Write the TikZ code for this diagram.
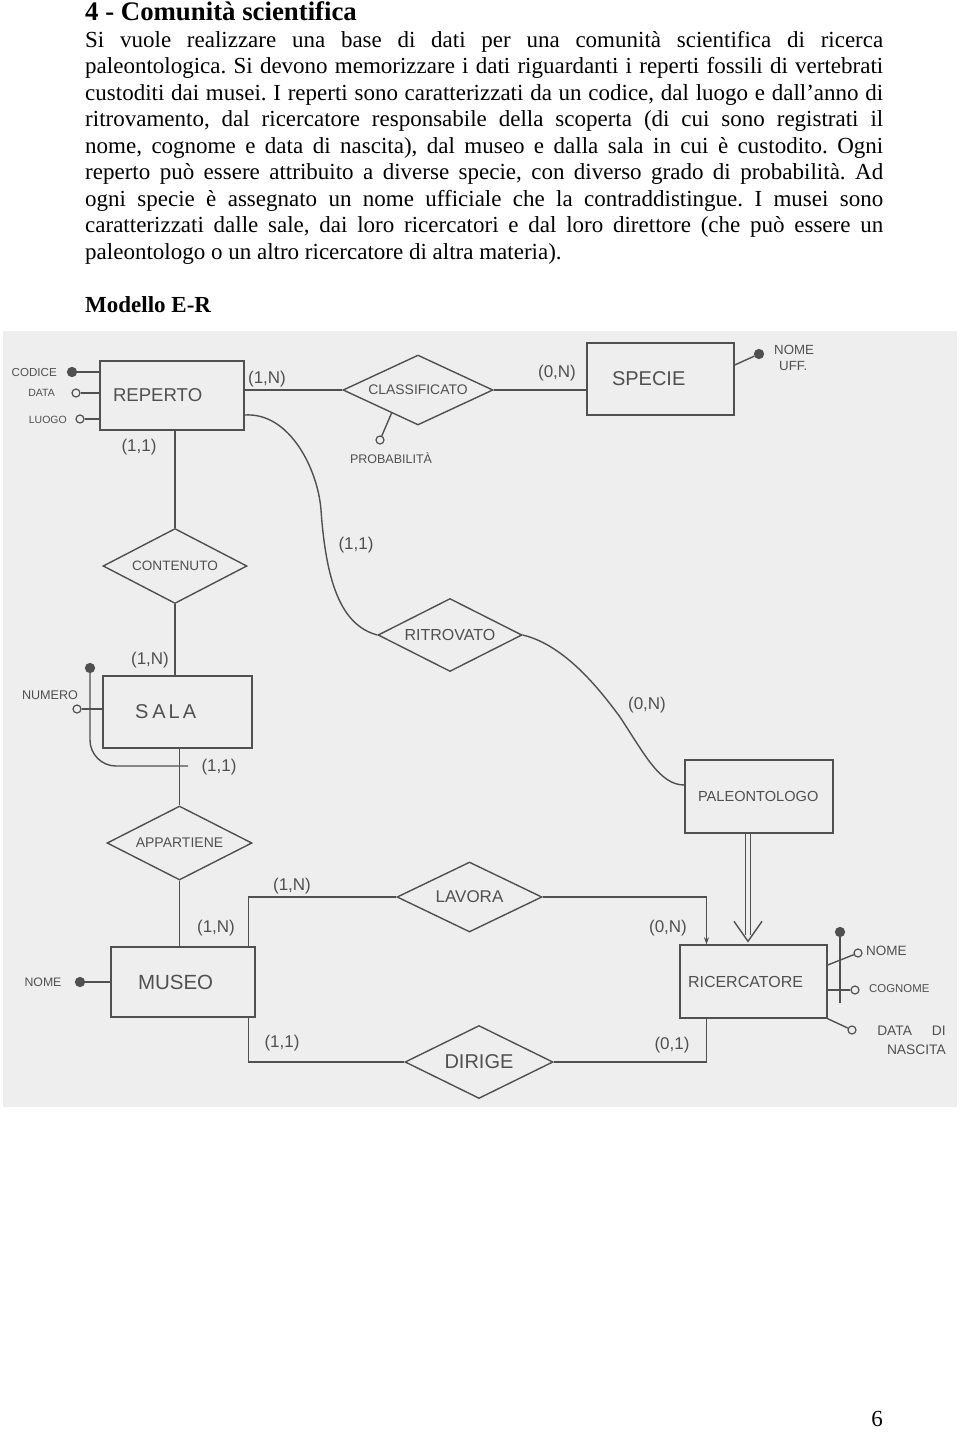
\documentclass[tikz,border=0pt]{standalone}
\usepackage{fontspec}
\setmainfont{Liberation Serif}
\newfontfamily\handfont{Liberation Sans}
\usetikzlibrary{shapes.geometric,arrows.meta,calc}
\definecolor{scan}{RGB}{238,238,238}
\definecolor{pencil}{RGB}{80,80,80}
\newcommand{\hsz}[1]{\fontsize{#1}{#1}\selectfont}
\frenchspacing
\begin{document}
\begin{tikzpicture}[x=1pt,y=-1pt,
  body/.style={inner sep=0pt, anchor=base west, font=\fontsize{23}{26.45}\selectfont},
  ent/.style={draw=pencil, line width=1.4pt, rectangle, inner ysep=0pt, align=left, text=pencil},
  rel/.style={draw=pencil, line width=1.4pt, diamond, aspect=2, inner sep=0pt, text=pencil},
  hand/.style={inner sep=0pt, text=pencil, font=\handfont},
  card/.style={inner sep=0pt, text=pencil, font=\handfont\hsz{17}},
  keyattr/.style={circle, draw=pencil, fill=pencil, line width=1.2pt, minimum size=9pt, inner sep=0pt},
  attr/.style={circle, draw=pencil, fill=scan, line width=1.2pt, minimum size=8pt, inner sep=0pt},
  conn/.style={draw=pencil, line width=1.4pt},
]
\useasboundingbox (0,0) rectangle (960,1433);
\fill[white] (0,0) rectangle (960,1433);

% ---- text ----
\node[inner sep=0pt, anchor=base west, font=\fontsize{26.8}{30}\selectfont\bfseries] (title) at (85,20) {4 - Comunità scientifica};
\node[body] (l1) at (85,47.5) {\makebox[798pt][s]{Si vuole realizzare una base di dati per una comunità scientifica di ricerca}};
\node[body] (l2) at (85,73.95) {\makebox[798pt][s]{paleontologica. Si devono memorizzare i dati riguardanti i reperti fossili di vertebrati}};
\node[body] (l3) at (85,100.4) {\makebox[798pt][s]{custoditi dai musei. I reperti sono caratterizzati da un codice, dal luogo e dall’anno di}};
\node[body] (l4) at (85,126.85) {\makebox[798pt][s]{ritrovamento, dal ricercatore responsabile della scoperta (di cui sono registrati il}};
\node[body] (l5) at (85,153.3) {\makebox[798pt][s]{nome, cognome e data di nascita), dal museo e dalla sala in cui è custodito. Ogni}};
\node[body] (l6) at (85,179.75) {\makebox[798pt][s]{reperto può essere attribuito a diverse specie, con diverso grado di probabilità. Ad}};
\node[body] (l7) at (85,206.2) {\makebox[798pt][s]{ogni specie è assegnato un nome ufficiale che la contraddistingue. I musei sono}};
\node[body] (l8) at (85,232.65) {\makebox[798pt][s]{caratterizzati dalle sale, dai loro ricercatori e dal loro direttore (che può essere un}};
\node[body] (l9) at (85,259.1) {paleontologo o un altro ricercatore di altra materia).};
\node[body, font=\fontsize{23}{26.45}\selectfont\bfseries] (mer) at (85,312) {Modello E-R};
\node[inner sep=0pt, anchor=base east, font=\fontsize{23}{26.45}\selectfont] (page) at (883,1426) {6};

% ---- scanned sheet ----
\fill[scan] (3,331) rectangle (957,1107);

% ---- entities ----
\node[ent, text width=118pt, inner xsep=13pt, minimum height=69pt, font=\handfont\hsz{18.6}] (rep) at (172,395.5) {REPERTO};
\node[ent, text width=97pt, inner xsep=25pt, minimum height=72pt, font=\handfont\hsz{20}] (sp) at (660.5,379) {SPECIE};
\node[ent, text width=85pt, inner xsep=32pt, minimum height=72pt, font=\handfont\hsz{20}] (sala) at (177.5,712) {S\kern4pt A\kern3pt L\kern3pt A};
\node[ent, text width=90pt, inner xsep=27pt, minimum height=70pt, font=\handfont\hsz{20.5}] (mus) at (183,982) {MUSEO};
\node[ent, text width=122pt, inner xsep=13pt, minimum height=73pt, font=\handfont\hsz{14.6}] (pal) at (759,796.5) {PALEONTOLOGO};
\node[ent, text width=131pt, inner xsep=8pt, minimum height=73pt, font=\handfont\hsz{16}] (ric) at (753.5,981.5) {RICERCATORE};

% ---- relationships ----
\node[rel, minimum width=150pt, minimum height=70pt, font=\handfont\hsz{13.9}] (cl) at (418,390) {CLASSIFICATO};
\node[rel, minimum width=144pt, minimum height=73pt, font=\handfont\hsz{16}] (rit) at (450,635) {RITROVATO};
\node[rel, minimum width=144pt, minimum height=75pt, font=\handfont\hsz{13.6}] (con) at (175,566) {CONTENUTO};
\node[rel, minimum width=145pt, minimum height=74pt, font=\handfont\hsz{14}] (app) at (179.5,843) {APPARTIENE};
\node[rel, minimum width=145pt, minimum height=70pt, font=\handfont\hsz{17}] (lav) at (469.5,897) {LAVORA};
\node[rel, minimum width=148pt, minimum height=73pt, font=\handfont\hsz{20}] (dir) at (479,1062) {DIRIGE};

% ---- connectors ----
\draw[conn] (cl.west) -- (cl.west -| rep.east);
\draw[conn] (cl.east) -- (cl.east -| sp.west);
\draw[conn] (con.north) -- (con.north |- rep.south);
\draw[conn] (con.south) -- (con.south |- sala.north);
\draw[conn] (app.north) -- (app.north |- sala.south);
\draw[conn] (app.south) -- (app.south |- mus.north);
\draw[conn] ([xshift=-7pt]mus.north east) |- (lav.west);
\draw[conn] ([xshift=-7pt]mus.south east) |- (dir.west);
\draw[conn, -{Stealth[length=7pt,width=5pt]}] (lav.east) -| ([xshift=-47pt]ric.north);
\draw[conn] (dir.east) -| ([xshift=-47pt]ric.south);
\draw[conn] ([yshift=-19.5pt]rep.east) .. controls (290,412) and (318,470) .. (321,510)
   .. controls (326,580) and (340,625) .. (rit.west);
\draw[conn] (rit.east) .. controls (565,645) and (600,690) .. (620,717)
   .. controls (645,755) and (660,785) .. ([yshift=11.5pt]pal.west);

% ISA
\coordinate (isatip) at ([xshift=-5.5pt,yshift=3pt]ric.north);
\coordinate (isaend) at ([yshift=6pt]isatip);
\draw[draw=pencil, line width=1.2pt, double=scan, double distance=4pt] (isaend |- pal.south) -- (isaend);
\draw[conn] ($(isatip)+(-14,-20)$) -- (isatip) -- ($(isatip)+(14,-20)$);

% ---- attributes ----
\node[keyattr] (acod) at (72,372) {};
\node[attr] (adata) at (76,393) {};
\node[attr] (aluogo) at (80,419) {};
\draw[conn] (acod) -- ([yshift=23.5pt]rep.west);
\draw[conn] (adata) -- ([yshift=2.5pt]rep.west);
\draw[conn] (aluogo) -- ([yshift=-23.5pt]rep.west);
\node[hand, anchor=east, font=\handfont\hsz{11.6}] (tcod) at (57,372) {CODICE};
\node[hand, anchor=east, font=\handfont\hsz{10.5}] (tdata) at (55,393) {DATA};
\node[hand, anchor=east, font=\handfont\hsz{10.5}] (tluogo) at (67,420) {LUOGO};

\node[attr] (aprob) at (380,440) {};
\draw[conn] (aprob) -- ($(cl.west)!0.65!(cl.south)$);
\node[hand, font=\handfont\hsz{12.5}] (tprob) at (391,458) {PROBABILITÀ};

\node[keyattr] (anuff) at (759,354) {};
\draw[conn] (anuff) -- ([yshift=14pt]sp.east);
\node[hand, anchor=west, align=left, font=\handfont\fontsize{13.3}{16}\selectfont] (tnuff) at (774,358) {NOME\\\hspace{5pt}UFF.};

\node[attr] (anum) at (77,709) {};
\draw[conn] (anum) -- ([yshift=3pt]sala.west);
\node[hand, font=\handfont\hsz{12.6}] (tnum) at (50,695) {NUMERO};
\node[keyattr] (salaid) at (90,668) {};
\coordinate (salaidend) at (188,766);
\draw[conn, rounded corners=26pt] (salaid) |- (salaidend);

\node[keyattr] (amnome) at (80,982) {};
\draw[conn] (amnome) -- (mus.west);
\node[hand, font=\handfont\hsz{12.3}] (tmnome) at (43,982) {NOME};

\node[attr] (arnome) at (858,953) {};
\node[attr] (arcogn) at (855,990) {};
\node[attr] (ardata) at (852,1030) {};
\draw[conn] ([yshift=16.5pt]ric.east) -- (arnome);
\draw[conn] ([yshift=-8.5pt]ric.east) -- (arcogn);
\draw[conn] (ric.south east) -- (ardata);
\node[keyattr] (ricid) at (840,932) {};
\coordinate (ricidend) at (840,1003);
\draw[conn] (ricid) -- (ricidend);
\node[hand, anchor=west, font=\handfont\hsz{13.5}] (trnome) at (866,951) {NOME};
\node[hand, anchor=west, font=\handfont\hsz{11.4}] (trcogn) at (869,989) {COGNOME};
\node[hand, anchor=east, align=right, font=\handfont\fontsize{13.8}{19}\selectfont] (trdata) at (946,1040) {DATA\hspace{20pt}DI\\NASCITA};

% ---- cardinalities ----
\node[card] (c1) at (267,379) {(1,N)};
\node[card] (c2) at (557,373) {(0,N)};
\node[card] (c3) at (139,447) {(1,1)};
\node[card] (c4) at (150,660) {(1,N)};
\node[card] (c5) at (219,767) {(1,1)};
\node[card] (c6) at (356,545) {(1,1)};
\node[card] (c7) at (647,705) {(0,N)};
\node[card] (c8) at (216,928) {(1,N)};
\node[card] (c9) at (292,886) {(1,N)};
\node[card] (c10) at (282,1043) {(1,1)};
\node[card] (c11) at (668,928) {(0,N)};
\node[card] (c12) at (672,1045) {(0,1)};
\end{tikzpicture}
\end{document}
